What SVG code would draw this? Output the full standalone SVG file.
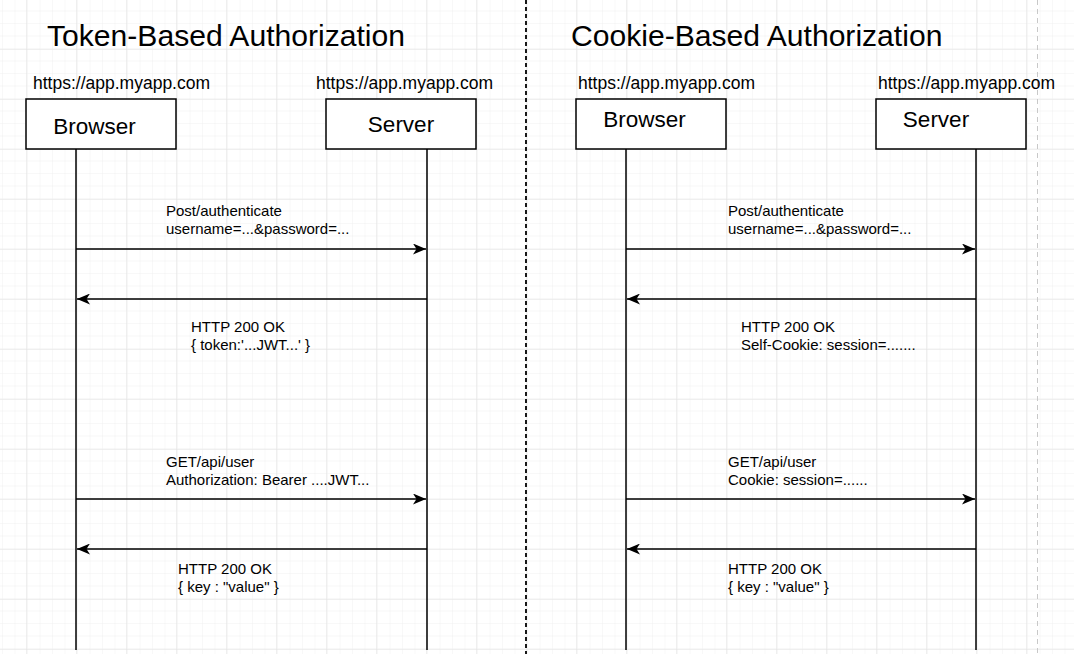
<svg xmlns="http://www.w3.org/2000/svg" width="1074" height="654" viewBox="0 0 1074 654">
  <style>
    .title { font-family: "Liberation Sans", Arial, sans-serif; font-size: 30.1px; fill: #000; }
    .url { font-family: "Liberation Sans", Arial, sans-serif; font-size: 17.5px; fill: #000; }
    .lbl { font-family: "Liberation Sans", Arial, sans-serif; font-size: 22.5px; fill: #000; }
    .msg { font-family: "Liberation Sans", Arial, sans-serif; font-size: 15px; fill: #000; }
    .box { fill: #fff; stroke: #000; stroke-width: 1.5; }
    .life { stroke: #000; stroke-width: 1.5; fill: none; }
    .arrow { stroke: #000; stroke-width: 1.5; fill: none; marker-end: url(#ah); }
  </style>
  <defs>
    <pattern id="minor" patternUnits="userSpaceOnUse" x="26" y="49" width="12.5" height="12.5">
      <path d="M0,0 H12.5 M0,0 V12.5" stroke="#f0f0f0" stroke-width="1" fill="none"/>
    </pattern>
    <pattern id="major" patternUnits="userSpaceOnUse" x="26" y="49" width="50" height="50">
      <rect width="50" height="50" fill="url(#minor)"/>
      <path d="M0,0 H50 M0,0 V50" stroke="#e0e0e0" stroke-width="1" fill="none"/>
    </pattern>
    <marker id="ah" viewBox="0 0 13 11" refX="13" refY="5.5" markerWidth="13" markerHeight="11" markerUnits="userSpaceOnUse" orient="auto">
      <path d="M0,0 L13,5.5 L0,11 L3.5,5.5 Z" fill="#000"/>
    </marker>
  </defs>

  <rect width="1074" height="654" fill="#fff"/>
  <rect width="1074" height="654" fill="url(#major)"/>

  <!-- dividers -->
  <line x1="526" y1="0" x2="526" y2="654" stroke="#000" stroke-width="1.8" stroke-dasharray="4 3"/>
  <line x1="1037.5" y1="0" x2="1037.5" y2="654" stroke="#c8c8c8" stroke-width="1" stroke-dasharray="5 4"/>

  <!-- titles -->
  <text class="title" x="47" y="46">Token-Based Authorization</text>
  <text class="title" x="571" y="46">Cookie-Based Authorization</text>

  <!-- URLs -->
  <text class="url" x="33" y="89">https://app.myapp.com</text>
  <text class="url" x="316" y="89">https://app.myapp.com</text>
  <text class="url" x="578" y="89">https://app.myapp.com</text>
  <text class="url" x="878" y="89">https://app.myapp.com</text>

  <!-- lifelines -->
  <g id="lifelines">
    <line class="life" x1="76" y1="149" x2="76" y2="650"/>
    <line class="life" x1="427" y1="149" x2="427" y2="650"/>
    <line class="life" x1="626" y1="149" x2="626" y2="650"/>
    <line class="life" x1="976" y1="149" x2="976" y2="650"/>
  </g>

  <!-- nodes -->
  <g id="token-browser">
    <rect class="box" x="26" y="99" width="150" height="50"/>
    <text class="lbl" x="94.5" y="134" text-anchor="middle">Browser</text>
  </g>
  <g id="token-server">
    <rect class="box" x="326" y="99" width="150" height="50"/>
    <text class="lbl" x="401" y="132" text-anchor="middle">Server</text>
  </g>
  <g id="cookie-browser">
    <rect class="box" x="576" y="99" width="150" height="50"/>
    <text class="lbl" x="644.5" y="127" text-anchor="middle">Browser</text>
  </g>
  <g id="cookie-server">
    <rect class="box" x="876" y="99" width="150" height="50"/>
    <text class="lbl" x="936" y="127" text-anchor="middle">Server</text>
  </g>

  <!-- connectors -->
  <g id="connectors">
    <line class="arrow" x1="76" y1="249" x2="426" y2="249"/>
    <line class="arrow" x1="427" y1="299" x2="77" y2="299"/>
    <line class="arrow" x1="76" y1="499" x2="426" y2="499"/>
    <line class="arrow" x1="427" y1="549" x2="77" y2="549"/>
    <line class="arrow" x1="626" y1="249" x2="975" y2="249"/>
    <line class="arrow" x1="976" y1="299" x2="627" y2="299"/>
    <line class="arrow" x1="626" y1="499" x2="975" y2="499"/>
    <line class="arrow" x1="976" y1="549" x2="627" y2="549"/>
  </g>

  <!-- message labels -->
  <g id="labels">
    <text class="msg" x="166" y="216">Post/authenticate</text>
    <text class="msg" x="166" y="234">username=...&amp;password=...</text>
    <text class="msg" x="191" y="332">HTTP 200 OK</text>
    <text class="msg" x="191" y="350">{ token:'...JWT...' }</text>
    <text class="msg" x="166" y="467">GET/api/user</text>
    <text class="msg" x="166" y="485">Authorization: Bearer ....JWT...</text>
    <text class="msg" x="178" y="574">HTTP 200 OK</text>
    <text class="msg" x="178" y="592">{ key : "value" }</text>

    <text class="msg" x="728" y="216">Post/authenticate</text>
    <text class="msg" x="728" y="234">username=...&amp;password=...</text>
    <text class="msg" x="741" y="332">HTTP 200 OK</text>
    <text class="msg" x="741" y="350">Self-Cookie: session=.......</text>
    <text class="msg" x="728" y="467">GET/api/user</text>
    <text class="msg" x="728" y="485">Cookie: session=......</text>
    <text class="msg" x="728" y="574">HTTP 200 OK</text>
    <text class="msg" x="728" y="592">{ key : "value" }</text>
  </g>
</svg>
